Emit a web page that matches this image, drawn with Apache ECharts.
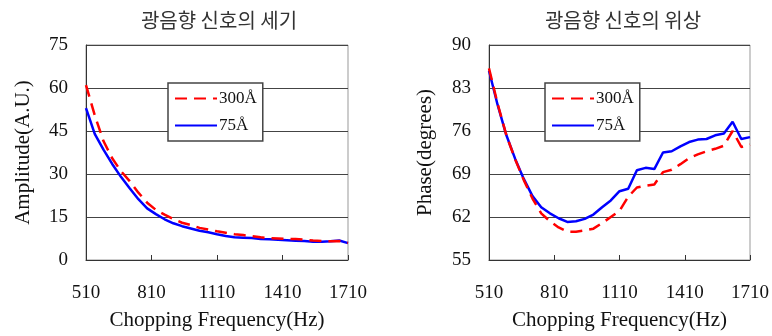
<!DOCTYPE html>
<html>
<head>
<meta charset="utf-8">
<script src="https://cdn.jsdelivr.net/npm/echarts@6/dist/echarts.min.js"></script>
<style>
  html, body { margin: 0; padding: 0; background: #fff; }
  #chart { width: 772px; height: 336px; }
</style>
</head>
<body>
<div id="chart"></div>
<script>
// chopping frequency (Hz)
const freq = [510, 550, 590, 630, 670, 710, 750, 790, 830, 870, 910, 950, 990, 1030, 1070,
  1110, 1150, 1190, 1230, 1270, 1310, 1350, 1390, 1430, 1470, 1510, 1550, 1590, 1630, 1670, 1710];

// amplitude (A.U.)
const amp300 = [61.0, 50.5, 41.5, 35.5, 31.0, 27.5, 23.5, 20.0, 17.5, 15.8, 14.3, 13.0, 12.2, 11.2, 10.6,
  10.0, 9.5, 9.0, 8.7, 8.3, 7.9, 7.6, 7.5, 7.4, 7.3, 7.1, 6.8, 6.6, 6.5, 6.6, 6.0];
const amp75 = [53.0, 44.0, 38.5, 33.5, 29.0, 25.0, 21.2, 18.0, 16.0, 14.2, 12.8, 11.8, 11.0, 10.2, 9.7,
  9.0, 8.4, 7.9, 7.8, 7.7, 7.3, 7.2, 7.1, 6.9, 6.7, 6.6, 6.4, 6.4, 6.5, 6.8, 5.9];

// phase (degrees)
const phase300 = [86.2, 80.4, 75.3, 71.4, 68.0, 65.0, 62.6, 61.3, 60.3, 59.6, 59.6, 59.8, 60.1, 61.0, 62.0,
  63.0, 65.3, 66.8, 67.1, 67.3, 69.3, 69.7, 70.6, 71.6, 72.2, 72.7, 73.1, 73.6, 76.0, 73.4, 73.8];
const phase75 = [85.8, 80.2, 75.3, 71.5, 68.2, 65.4, 63.6, 62.6, 61.8, 61.2, 61.3, 61.7, 62.4, 63.6, 64.7,
  66.2, 66.6, 69.6, 70.0, 69.8, 72.5, 72.7, 73.5, 74.2, 74.6, 74.7, 75.3, 75.6, 77.5, 74.7, 75.0];

const titles = ['광음향 신호의 세기', '광음향 신호의 위상'];
const yNames = ['Amplitude(A.U.)', 'Phase(degrees)'];
const xName = 'Chopping Frequency(Hz)';
const names = ['300Å', '75Å'];

const serif = '"Liberation Serif", "DejaVu Serif", serif';
const red = '#ff0000';
const blue = '#0000ff';

const pairs = (vals) => freq.map((f, i) => [f, vals[i]]);

const chart = echarts.init(document.getElementById('chart'));

const xAxisBase = {
  type: 'value',
  min: 510,
  max: 1710,
  interval: 300,
  name: xName,
  nameLocation: 'middle',
  nameGap: 50,
  nameTextStyle: { fontFamily: serif, fontSize: 21, color: '#111' },
  axisLine: { show: true, lineStyle: { color: '#333', width: 1 } },
  axisTick: { show: true, inside: true, length: 5, lineStyle: { color: '#333' } },
  axisLabel: { fontFamily: serif, fontSize: 19, color: '#111', margin: 24, formatter: (v) => String(v) },
  splitLine: { show: false },
};

const yAxisBase = {
  type: 'value',
  nameLocation: 'middle',
  nameGap: 52,
  nameTextStyle: { fontFamily: serif, fontSize: 21, color: '#111' },
  axisLine: { show: true, lineStyle: { color: '#333', width: 1 } },
  axisTick: { show: false },
  axisLabel: { fontFamily: serif, fontSize: 19, color: '#111', margin: 18 },
  splitLine: { show: true, lineStyle: { color: '#444', width: 1 } },
};

const legendBase = {
  orient: 'vertical',
  top: 83,
  data: names,
  backgroundColor: '#fff',
  borderColor: '#444',
  borderWidth: 1.5,
  borderRadius: 0,
  padding: [7, 6, 7, 6],
  itemWidth: 42,
  itemHeight: 14,
  itemGap: 10,
  itemStyle: { opacity: 0 },
  textStyle: { fontFamily: serif, fontSize: 17, color: '#111', padding: [0, 0, 0, -3] },
};

const lineSeries = (name, data, idx, color, dashed) => ({
  name,
  type: 'line',
  xAxisIndex: idx,
  yAxisIndex: idx,
  data,
  showSymbol: false,
  symbol: 'none',
  smooth: false,
  lineStyle: { color, width: 2.5, type: dashed ? [12, 7] : 'solid' },
  itemStyle: { color },
  z: dashed ? 3 : 2,
});

const titleStyle = { fontFamily: '"Noto Sans CJK KR", sans-serif', fontSize: 20, fontWeight: 'normal', color: '#333' };

chart.setOption({
  backgroundColor: '#fff',
  animation: false,
  title: [
    { text: titles[0], left: 214, top: 5, textAlign: 'center', textStyle: titleStyle },
    { text: titles[1], left: 618, top: 5, textAlign: 'center', textStyle: titleStyle },
  ],
  legend: [
    Object.assign({}, legendBase, { left: 168 }),
    Object.assign({}, legendBase, { left: 545 }),
  ],
  grid: [
    { left: 86, top: 45, width: 262, height: 216, show: true, borderColor: '#999', borderWidth: 1, backgroundColor: '#fff' },
    { left: 489, top: 45, width: 262, height: 216, show: true, borderColor: '#999', borderWidth: 1, backgroundColor: '#fff' },
  ],
  xAxis: [
    Object.assign({}, xAxisBase, { gridIndex: 0 }),
    Object.assign({}, xAxisBase, { gridIndex: 1 }),
  ],
  yAxis: [
    Object.assign({}, yAxisBase, { gridIndex: 0, min: 0, max: 75, interval: 15, name: yNames[0] }),
    Object.assign({}, yAxisBase, { gridIndex: 1, min: 55, max: 90, interval: 7, name: yNames[1], nameGap: 53 }),
  ],
  series: [
    lineSeries(names[1], pairs(amp75), 0, blue, false),
    lineSeries(names[0], pairs(amp300), 0, red, true),
    lineSeries(names[1], pairs(phase75), 1, blue, false),
    lineSeries(names[0], pairs(phase300), 1, red, true),
  ],
});
</script>
</body>
</html>
